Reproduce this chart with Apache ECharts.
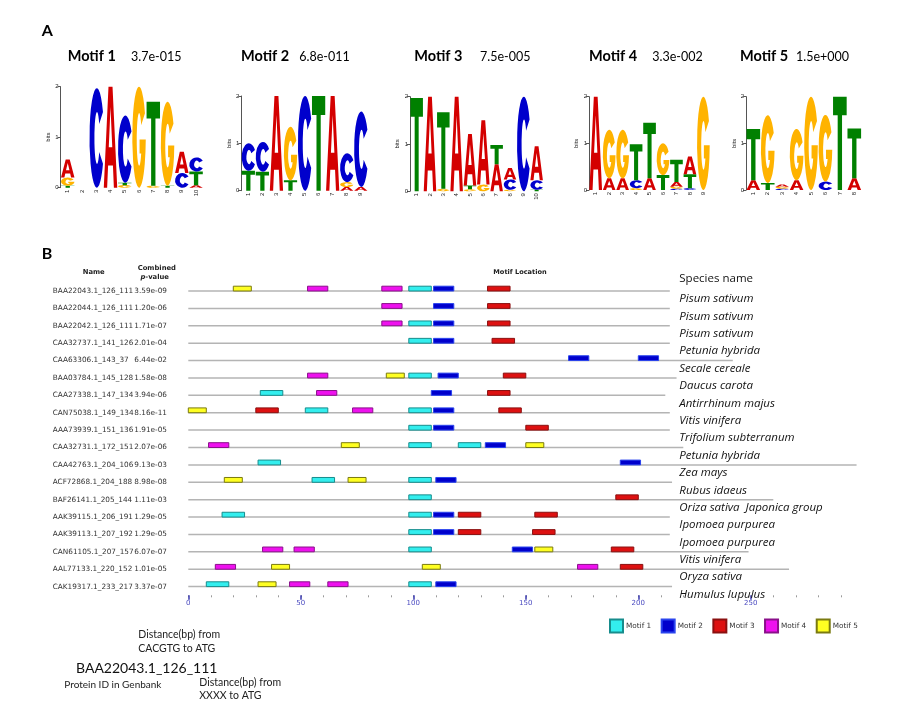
<!DOCTYPE html>
<html><head><meta charset="utf-8">
<script src="https://cdn.jsdelivr.net/npm/echarts@6/dist/echarts.min.js"></script>
<style>html,body{margin:0;padding:0;background:#fff}#c{width:907px;height:718px}</style>
</head><body><div id="c"></div><script>
// ---------- Panel A data ----------
const motifNames = ['Motif 1','Motif 2','Motif 3','Motif 4','Motif 5'];
const motifEValues = ['3.7e-015','6.8e-011','7.5e-005','3.3e-002','1.5e+000'];
// columns, letters bottom -> top, [letter, bits]
const logo1 = [[['T',0.04],['G',0.16],['A',0.36]], [], [['C',1.97]], [['A',2.0]], [['G',0.05],['T',0.05],['C',1.33]], [['G',2.0]], [['G',0.04],['T',1.66]], [['T',0.04],['G',1.66]], [['C',0.29],['A',0.42]], [['A',0.05],['T',0.27],['C',0.28]]];
const logo2 = [[['T',0.42],['C',0.58]], [['T',0.40],['C',0.63]], [['A',2.0]], [['T',0.22],['G',1.13]], [['C',2.0]], [['T',2.0]], [['A',2.0]], [['A',0.08],['G',0.1],['C',0.61]], [['A',0.08],['C',1.59]]];
const logo3 = [[['T',1.97]], [['A',2.0]], [['G',0.05],['T',1.62]], [['A',2.0]], [['G',0.04],['T',0.08],['A',1.09]], [['G',0.14],['A',1.36]], [['A',0.57],['T',0.41]], [['G',0.03],['C',0.22],['A',0.24]], [['C',2.0]], [['T',0.03],['C',0.2],['A',0.72]]];
const logo4 = [[['A',2.0]], [['A',0.25],['G',1.04]], [['A',0.25],['G',1.04]], [['G',0.04],['C',0.17],['T',0.77]], [['A',0.25],['T',1.19]], [['T',0.32],['G',0.68]], [['C',0.03],['G',0.04],['A',0.1],['T',0.48]], [['C',0.04],['T',0.3],['A',0.38]], [['G',2.0]]];
const logo5 = [[['A',0.21],['T',1.1]], [['T',0.15],['G',1.45]], [['C',0.03],['G',0.04],['A',0.05]], [['A',0.21],['G',1.1]], [['G',2.0]], [['C',0.18],['G',1.43]], [['T',2.0]], [['A',0.25],['T',1.07]]];
const logos = [logo1, logo2, logo3, logo4, logo5];

// ---------- Panel B data ----------
const seqNames = ['BAA22043.1_126_111','BAA22044.1_126_111','BAA22042.1_126_111','CAA32737.1_141_126','CAA63306.1_143_37','BAA03784.1_145_128','CAA27338.1_147_134','CAN75038.1_149_134','AAA73939.1_151_136','CAA32731.1_172_151','CAA42763.1_204_106','ACF72868.1_204_188','BAF26141.1_205_144','AAK39115.1_206_191','AAK39113.1_207_192','CAN61105.1_207_157','AAL77133.1_220_152','CAK19317.1_233_217'];
const pValues = ['3.59e-09','1.20e-06','1.71e-07','2.01e-04','6.44e-02','1.58e-08','3.94e-06','8.16e-11','1.91e-05','2.07e-06','9.13e-03','8.98e-08','1.11e-03','1.29e-05','1.29e-05','6.07e-07','1.01e-05','3.37e-07'];
const species = ['Pisum sativum','Pisum sativum','Pisum sativum','Petunia hybrida','Secale cereale','Daucus carota','Antirrhinum majus','Vitis vinifera','Trifolium subterranum','Petunia hybrida','Zea mays','Rubus idaeus','Oriza sativa  Japonica group','Ipomoea purpurea','Ipomoea purpurea','Vitis vinifera','Oryza sativa','Humulus lupulus'];
const seqLengths = [214,214,214,214,242,217,212,214,214,220,297,215,260,214,214,249,267,215];
// [row, start]
const motif1Sites = [[0,98],[2,98],[3,98],[5,98],[6,32],[7,52],[7,98],[8,98],[9,98],[9,120],[10,31],[11,55],[11,98],[12,98],[13,15],[13,98],[14,98],[15,98],[17,8],[17,98]];
const motif2Sites = [[0,109],[1,109],[2,109],[3,109],[4,169],[4,200],[5,111],[6,108],[7,109],[8,109],[9,132],[10,192],[11,110],[13,109],[14,109],[15,144],[17,110]];
const motif3Sites = [[0,133],[1,133],[2,133],[3,135],[5,140],[6,133],[7,30],[7,138],[8,150],[12,190],[13,120],[13,154],[14,120],[14,153],[15,188],[16,192]];
const motif4Sites = [[0,53],[0,86],[1,86],[2,86],[5,53],[6,57],[7,73],[9,9],[15,33],[15,47],[16,12],[16,173],[17,45],[17,62]];
const motif5Sites = [[0,20],[5,88],[7,0],[9,68],[9,150],[11,16],[11,71],[15,154],[16,37],[16,104],[17,31]];
const motifSites = [motif1Sites, motif2Sites, motif3Sites, motif4Sites, motif5Sites];
const axisTicksB = [0,50,100,150,200,250];

// ---------- styles ----------
const LETTERS = ['A','C','G','T'];
const LETTER_COLORS = ['#d40000','#0000cc','#ffb300','#008000'];
const LETTER_PATHS = [
  'M0,100 L35,0 L65,0 L100,100 L75,100 L68,78 L32,78 L25,100 Z M37,60 L63,60 L50,20 Z',
  'M94,24 A50,50 0 1 0 94,76 L68,64 A18,26 0 1 1 68,36 Z',
  'M94,24 A50,50 0 1 0 100,50 L54,50 L54,64 L66,64 A18,26 0 1 1 66,36 Z',
  'M0,0 L100,0 L100,20 L66,20 L66,100 L34,100 L34,20 L0,20 Z'
];
const MOTIF_FILL = ['#33eeee','#0000cc','#dd1111','#ee11ee','#ffff22'];
const MOTIF_BORDER = ['#178c8c','#2a44ee','#8a1010','#8a108a','#7a7a10'];
const logoGrids = [
  {left:60.6, top:86.7, width:142.6, height:101},
  {left:241.3, top:96, width:126.5, height:94.7},
  {left:410, top:96.7, width:133.3, height:94.5},
  {left:589, top:96.7, width:121.1, height:93.3},
  {left:746.1, top:96.7, width:115.4, height:93.3}
];
const titlePos = [[67.7,131],[241,299.3],[414.3,480],[589,652.3],[740,796]];

function stackLogo(cols){
  const out=[];
  cols.forEach((col,i)=>{ let b=0; col.forEach(([L,h])=>{ out.push([i,b,b+h,LETTERS.indexOf(L)]); b+=h; }); });
  return out;
}
function letterRender(params, api){
  const c=api.value(0), b=api.value(1), t=api.value(2), L=api.value(3);
  const bw=api.size([1,0])[0];
  const p0=api.coord([c,b]), p1=api.coord([c,t]);
  const w=bw-0.8;
  const h=p0[1]-p1[1];
  if (h<=0) return null;
  return {type:'path', shape:{pathData:LETTER_PATHS[L], x:p0[0]-w/2, y:p1[1], width:w, height:h, layout:'cover'}, style:{fill:LETTER_COLORS[L]}};
}

const grids=[], xAxes=[], yAxes=[], series=[], graphics=[];
logos.forEach((lg,k)=>{
  grids.push(Object.assign({outerBoundsMode:'none', containLabel:false}, logoGrids[k]));
  xAxes.push({gridIndex:k, type:'category', data:lg.map((_,i)=>String(i+1)), boundaryGap:true,
    axisLine:{show:false}, axisTick:{show:false},
    axisLabel:{rotate:90, fontSize:6, margin:2, color:'#222', fontFamily:'Liberation Sans'}});
  yAxes.push({gridIndex:k, type:'value', min:0, max:2, interval:1,
    axisLine:{show:true, lineStyle:{color:'#555', width:1}}, axisTick:{show:true, length:3, lineStyle:{color:'#555'}},
    axisLabel:{fontSize:6, margin:2, color:'#222', fontFamily:'Liberation Sans'}, splitLine:{show:false},
    name:'bits', nameLocation:'middle', nameGap:9, nameTextStyle:{fontSize:6, color:'#222', fontFamily:'Liberation Sans'}});
  series.push({type:'custom', xAxisIndex:k, yAxisIndex:k, renderItem:letterRender, data:stackLogo(lg), encode:{x:0,y:[1,2]}, silent:true});
  graphics.push({type:'text', x:titlePos[k][0], y:56.7, style:{text:motifNames[k], fontFamily:'Lato', fontWeight:'bold', fontSize:14.5, fill:'#000', verticalAlign:'middle'}});
  graphics.push({type:'text', x:titlePos[k][1], y:56.7, style:{text:motifEValues[k], fontFamily:'Lato', fontSize:12.5, fill:'#000', verticalAlign:'middle'}});
});

// Panel B grid (index 5) and label grid (index 6)
const X0=188.3, UNIT=2.25, TOPB=282.3, HB=313;
grids.push({left:X0, top:TOPB, width:290*UNIT, height:HB, outerBoundsMode:'none', containLabel:false});
grids.push({left:X0, top:TOPB, width:250*UNIT, height:HB, outerBoundsMode:'none', containLabel:false});
xAxes.push({gridIndex:5, type:'value', min:0, max:290, interval:10, axisLine:{show:false},
  axisTick:{show:true, length:2, lineStyle:{color:'#9a9a9a', width:1}}, axisLabel:{show:false}, splitLine:{show:false}});
xAxes.push({gridIndex:6, type:'value', min:0, max:250, interval:50, axisLine:{show:false},
  axisTick:{show:true, length:4.5, lineStyle:{color:'#3a3ab0', width:1.5}},
  axisLabel:{show:true, fontSize:7, margin:4, color:'#4a4ac0', fontFamily:'DejaVu Sans', formatter:v=>axisTicksB.indexOf(v)>=0?String(v):''}, splitLine:{show:false}});
yAxes.push({gridIndex:5, type:'category', data:seqNames, inverse:true, axisLine:{show:false}, axisTick:{show:false},
  axisLabel:{align:'left', margin:X0-52.7, interval:0, formatter:(v,i)=>'{n|'+seqNames[i]+'}{p|'+pValues[i]+'}',
    rich:{n:{width:81.6, fontSize:7.3, fontFamily:'DejaVu Sans', color:'#333'}, p:{fontSize:7.3, fontFamily:'DejaVu Sans', color:'#333'}}}});
yAxes.push({gridIndex:5, type:'category', data:species, inverse:true, position:'right', axisLine:{show:false}, axisTick:{show:false},
  axisLabel:{align:'left', verticalAlign:'top', lineHeight:16, margin:679.3-(X0+290*UNIT), interval:0, fontFamily:'Open Sans', fontStyle:'italic', fontSize:11.5, color:'#111'}});
yAxes.push({gridIndex:6, type:'category', data:seqNames, show:false});

series.push({type:'custom', name:'seq', xAxisIndex:5, yAxisIndex:5, silent:true, z:1,
  data:seqLengths.map((l,i)=>[l,i]), encode:{x:0,y:1},
  renderItem:(p,api)=>{ const a=api.coord([0,api.value(1)]), b=api.coord([api.value(0),api.value(1)]);
    return {type:'line', shape:{x1:a[0],y1:a[1],x2:b[0],y2:b[1]}, style:{stroke:'#b4b4b4', lineWidth:1.5}}; }});
motifSites.forEach((sites,k)=>{
  const len = logos[k].length;
  series.push({type:'custom', name:motifNames[k], xAxisIndex:5, yAxisIndex:5, silent:true, z:2,
    itemStyle:{color:MOTIF_FILL[k], borderColor:MOTIF_BORDER[k], borderWidth:1},
    data:sites.map(s=>[s[1], s[0]]), encode:{x:0,y:1},
    renderItem:(p,api)=>{ const s=api.value(0), r=api.value(1);
      const a=api.coord([s,r]), b=api.coord([s+len,r]);
      return {type:'rect', shape:{x:a[0], y:a[1]-4.8, width:b[0]-a[0], height:4.8}, style:{fill:MOTIF_FILL[k], stroke:MOTIF_BORDER[k], lineWidth:1}}; }});
});

// static texts
const T=(x,y,text,o)=>graphics.push({type:'text', x, y, style:Object.assign({text, fill:'#000', verticalAlign:'middle', fontFamily:'Lato'}, o||{})});
T(41.7,30.5,'A',{fontSize:16,fontWeight:'bold'});
T(41.7,253.5,'B',{fontSize:16,fontWeight:'bold'});
T(82.7,272.3,'Name',{fontFamily:'DejaVu Sans',fontWeight:'bold',fontSize:6.8,fill:'#222'});
T(137.7,268.3,'Combined',{fontFamily:'DejaVu Sans',fontWeight:'bold',fontSize:6.8,fill:'#222'});
graphics.push({type:'text', x:140.5, y:277.5, style:{text:'{i|p}{b|-value}', verticalAlign:'middle', rich:{i:{fontFamily:'DejaVu Sans',fontWeight:'bold',fontStyle:'italic',fontSize:6.8,fill:'#222'}, b:{fontFamily:'DejaVu Sans',fontWeight:'bold',fontSize:6.8,fill:'#222'}}}});
T(493.3,272.3,'Motif Location',{fontFamily:'DejaVu Sans',fontWeight:'bold',fontSize:6.6,fill:'#222'});
T(679.3,279,'Species name',{fontFamily:'Open Sans',fontSize:11.5,fill:'#111'});
T(138.3,635,'Distance(bp) from',{fontSize:10.5,fill:'#222'});
T(138.3,648.3,'CACGTG to ATG',{fontSize:10.5,fill:'#222'});
T(76,668.3,'BAA22043.1_126_111',{fontSize:14,fill:'#111'});
T(64.3,685,'Protein ID in Genbank',{fontSize:10,fill:'#222'});
T(199.3,682.7,'Distance(bp) from',{fontSize:10.5,fill:'#222'});
T(199.3,695.7,'XXXX to ATG',{fontSize:10.5,fill:'#222'});

const chart = echarts.init(document.getElementById('c'), null, {renderer:'canvas'});
chart.setOption({
  animation:false, backgroundColor:'#fff',
  grid:grids, xAxis:xAxes, yAxis:yAxes, series:series, graphic:graphics,
  legend:{data:motifNames, left:609, top:618.5, padding:0, itemWidth:13, itemHeight:13, itemGap:9.5, icon:'rect',
    textStyle:{fontSize:7.3, fontFamily:'DejaVu Sans', color:'#333', padding:[0,0,0,-2]}, selectedMode:false}
});
</script></body></html>
